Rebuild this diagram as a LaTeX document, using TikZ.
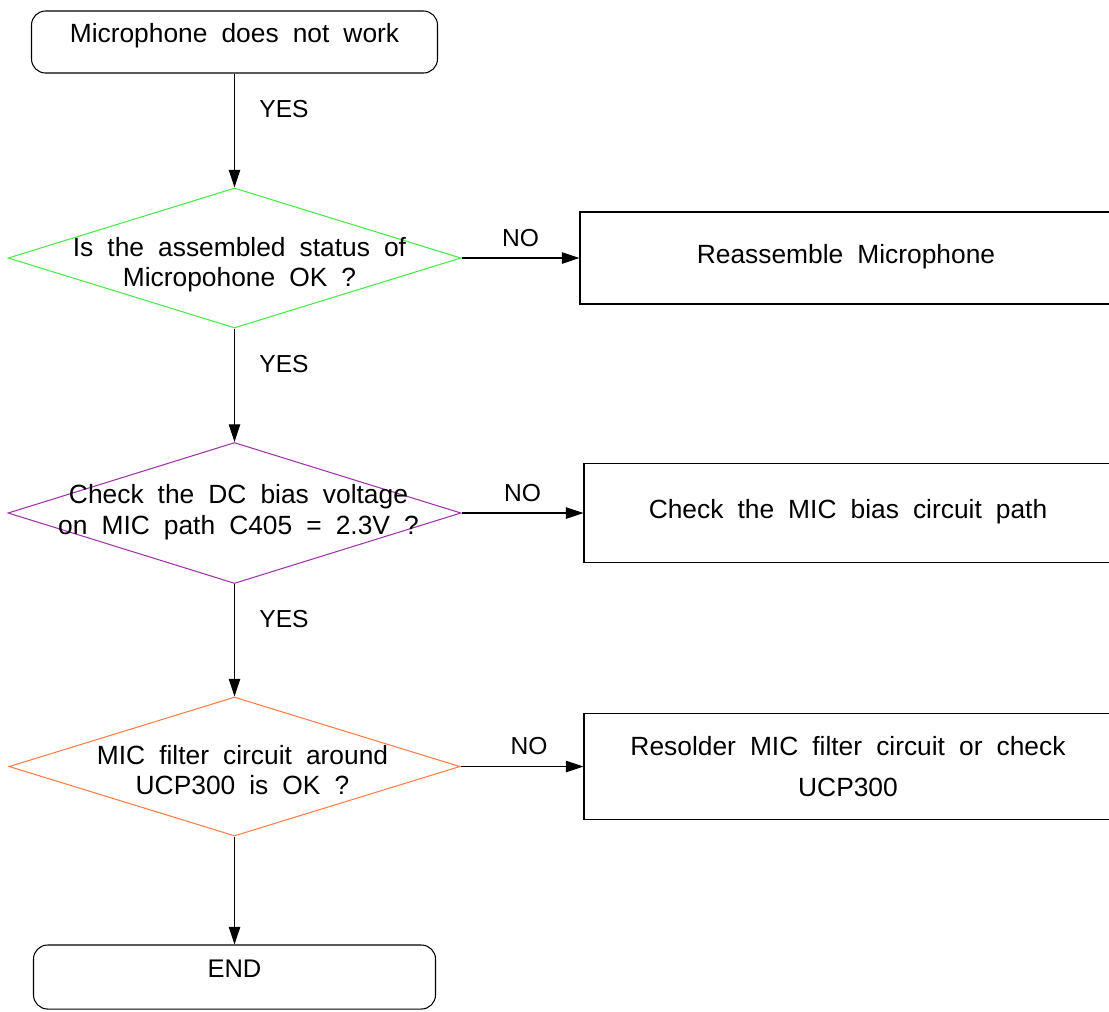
\documentclass[tikz,border=0pt]{standalone}
\usepackage{fontspec}
\setmainfont{Liberation Sans}
\usepackage{tikz}
\usetikzlibrary{shapes.geometric,arrows.meta,positioning}
\usepackage{xcolor}
\definecolor{okcol}{RGB}{70,235,70}
\definecolor{biascol}{RGB}{160,50,170}
\definecolor{filtcol}{RGB}{255,125,70}
\newcommand{\boxspace}{\spaceskip 8pt\relax}

\begin{document}
\begin{tikzpicture}[
  font=\fontsize{14}{17}\selectfont,
  boxfont/.style={font=\fontsize{15}{23}\selectfont\boxspace},
  term/.style={rectangle, rounded corners=8pt, draw=black, line width=0.6pt,
               minimum width=8.12cm, minimum height=1.24cm, boxfont,
               text height=0.3cm, text depth=0.3cm},
  dec/.style={diamond, draw, line width=0.6pt, minimum width=9.06cm,
              minimum height=2.8cm, inner sep=0pt},
  dectxt/.style={align=center, font=\fontsize{15}{17.5}\selectfont\boxspace},
  act/.style={rectangle, draw=black, line width=0.6pt, align=center, boxfont},
  arr/.style={-{Triangle[length=10pt,width=6.5pt]}, line width=0.6pt},
  yes/.style={right=0.37cm, pos=0.31},
  no/.style={above=0.1cm, midway}
]
\useasboundingbox (0,0) rectangle (22.18,-20.22);

%% Start / end
\node[term] (start) at (4.69,-0.84) {Microphone does not work};
\node[term, minimum width=8.04cm, minimum height=1.28cm,
      font=\fontsize{14.5}{17}\selectfont] (end) at (4.69,-19.54) {END};

%% Decisions (shape + text on top)
\node[dec, draw=okcol] (asm) at (4.69,-5.16) {};
\node[dectxt, yshift=-4pt, xshift=0.1cm, font=\fontsize{15}{17}\selectfont\boxspace]
  (asmtxt) at (asm) {Is the assembled status of\\Micropohone OK ?};
\node[dec, draw=biascol, minimum height=2.82cm] (bias) at (4.69,-10.26) {};
\node[dectxt, yshift=0.5pt, xshift=0.08cm, font=\fontsize{15}{18}\selectfont\boxspace]
  (biastxt) at (bias) {Check the DC bias voltage\\on MIC path C405 = 2.3V ?};
\node[dec, draw=filtcol, minimum width=9.02cm, minimum height=2.78cm] (filt) at (4.69,-15.33) {};
\node[dectxt, yshift=-2pt, xshift=0.16cm] (filttxt) at (filt)
  {MIC filter circuit around\\UCP300 is OK ?};

%% Actions
\node[act, minimum width=10.64cm, minimum height=1.84cm,
      text height=0.42cm, text depth=0.22cm] (reasm) at (16.92,-5.16)
  {Reassemble Microphone};
\node[act, minimum width=10.56cm, minimum height=1.98cm,
      text height=0.42cm, text depth=0.22cm] (biasck) at (16.96,-10.26)
  {Check the MIC bias circuit path};
\node[act, minimum width=10.56cm, minimum height=2.12cm] (resold) at (16.96,-15.33)
  {Resolder MIC filter circuit or check\\UCP300};

%% Main flow
\draw[arr] (start) -- node[yes] (y1) {YES} (asm);
\draw[arr] (asm) -- node[yes] (y2) {YES} (bias);
\draw[arr] (bias) -- node[yes] (y3) {YES} (filt);
\draw[arr] (filt) -- (end);

%% NO branches
\draw[arr] (asm.east) -- node[no] (n1) {NO} (reasm.west);
\draw[arr] (bias.east) -- node[no] (n2) {NO} (biasck.west);
\draw[arr] (filt.east) -- node[no, xshift=4pt] (n3) {NO} (resold.west);

\end{tikzpicture}
\end{document}
